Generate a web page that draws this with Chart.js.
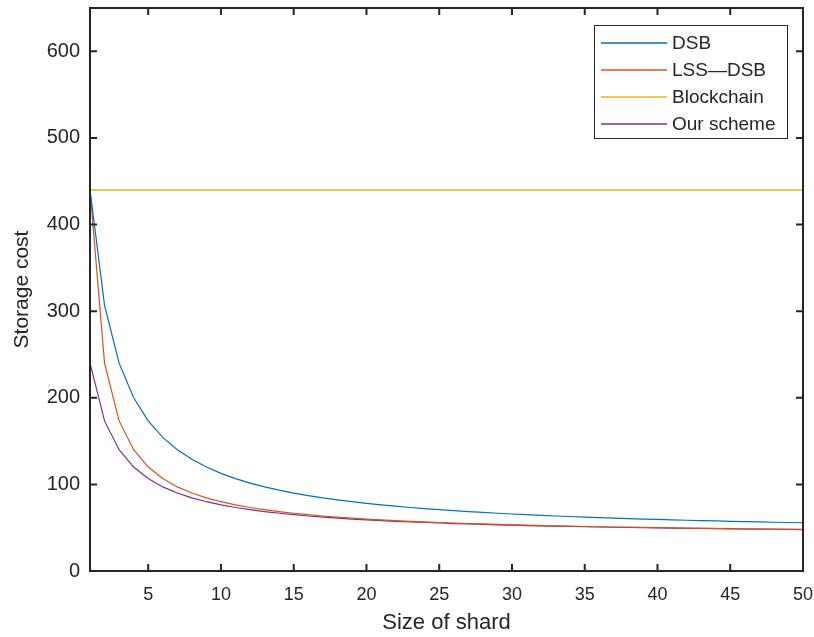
<!DOCTYPE html>
<html>
<head>
<meta charset="utf-8">
<script src="https://cdn.jsdelivr.net/npm/chart.js@4"></script>
<style>
  body { margin: 0; background: #fff; }
  #storageChart { display: block; }
</style>
</head>
<body>
<canvas id="storageChart" width="814" height="637"></canvas>
<script>
// shard sizes 1..50
const shardSizes = [
  1, 2, 3, 4, 5, 6, 7, 8, 9, 10, 11, 12, 13, 14, 15, 16, 17, 18, 19, 20,
  21, 22, 23, 24, 25, 26, 27, 28, 29, 30, 31, 32, 33, 34, 35, 36, 37, 38, 39, 40,
  41, 42, 43, 44, 45, 46, 47, 48, 49, 50
];

const dsbCost = [
  440, 306.7, 240, 200, 173.3, 154.3, 140, 128.9, 120, 112.7,
  106.7, 101.5, 97.1, 93.3, 90, 87.1, 84.4, 82.1, 80, 78.1,
  76.4, 74.8, 73.3, 72, 70.8, 69.6, 68.6, 67.6, 66.7, 65.8,
  65, 64.2, 63.5, 62.9, 62.2, 61.6, 61.1, 60.5, 60, 59.5,
  59, 58.6, 58.1, 57.8, 57.4, 57, 56.7, 56.3, 56, 55.7
];

const lssDsbCost = [
  440, 240, 173.3, 140, 120, 106.7, 97.1, 90, 84.4, 80,
  76.4, 73.3, 70.8, 68.6, 66.7, 65, 63.5, 62.2, 61.1, 60,
  59, 58.2, 57.4, 56.7, 56, 55.4, 54.8, 54.3, 53.8, 53.3,
  52.9, 52.5, 52.1, 51.8, 51.4, 51.1, 50.8, 50.5, 50.3, 50,
  49.8, 49.5, 49.3, 49.1, 48.9, 48.7, 48.5, 48.3, 48.2, 48
];

const blockchainCost = [
  440, 440, 440, 440, 440, 440, 440, 440, 440, 440,
  440, 440, 440, 440, 440, 440, 440, 440, 440, 440,
  440, 440, 440, 440, 440, 440, 440, 440, 440, 440,
  440, 440, 440, 440, 440, 440, 440, 440, 440, 440,
  440, 440, 440, 440, 440, 440, 440, 440, 440, 440
];

const ourSchemeCost = [
  240, 173.3, 140, 120, 106.7, 97.1, 90, 84.4, 80, 76.4,
  73.3, 70.8, 68.6, 66.7, 65, 63.5, 62.2, 61.1, 60, 59,
  58.2, 57.4, 56.7, 56, 55.4, 54.8, 54.3, 53.8, 53.3, 52.9,
  52.5, 52.1, 51.8, 51.4, 51.1, 50.8, 50.5, 50.3, 50, 49.8,
  49.5, 49.3, 49.1, 48.9, 48.7, 48.5, 48.3, 48.2, 48, 47.8
];

const xTicks = [5, 10, 15, 20, 25, 30, 35, 40, 45, 50];
const yTicks = [0, 100, 200, 300, 400, 500, 600];

const axisColor = '#262626';
const fontFamily = '"Liberation Sans", Arial, Helvetica, sans-serif';

function toPoints(values) {
  return values.map((v, i) => ({ x: shardSizes[i], y: v }));
}

// MATLAB style box with inward ticks on all four sides
const boxPlugin = {
  id: 'box',
  afterDraw(chart) {
    const { ctx, chartArea: a, scales } = chart;
    const len = 7;
    ctx.save();
    ctx.strokeStyle = axisColor;
    ctx.lineWidth = 2;
    ctx.strokeRect(a.left, a.top, a.right - a.left, a.bottom - a.top);
    ctx.beginPath();
    xTicks.forEach(v => {
      const px = scales.x.getPixelForValue(v);
      ctx.moveTo(px, a.bottom); ctx.lineTo(px, a.bottom - len);
      ctx.moveTo(px, a.top); ctx.lineTo(px, a.top + len);
    });
    yTicks.forEach(v => {
      const py = scales.y.getPixelForValue(v);
      ctx.moveTo(a.left, py); ctx.lineTo(a.left + len, py);
      ctx.moveTo(a.right, py); ctx.lineTo(a.right - len, py);
    });
    ctx.stroke();
    ctx.restore();
  }
};

// legend box in the upper right corner
const legendBoxPlugin = {
  id: 'legendBox',
  afterDraw(chart) {
    const { ctx } = chart;
    const x0 = 594, y0 = 25, w = 193, h = 113;
    ctx.save();
    ctx.fillStyle = '#fff';
    ctx.fillRect(x0, y0, w, h);
    ctx.strokeStyle = axisColor;
    ctx.lineWidth = 1;
    ctx.strokeRect(x0 + 0.5, y0 + 0.5, w, h);
    ctx.font = '19px ' + fontFamily;
    ctx.textBaseline = 'middle';
    ctx.textAlign = 'left';
    chart.data.datasets.forEach((ds, i) => {
      const y = 43 + i * 27;
      ctx.strokeStyle = ds.borderColor;
      ctx.lineWidth = 1.3;
      ctx.beginPath();
      ctx.moveTo(601, y);
      ctx.lineTo(667, y);
      ctx.stroke();
      ctx.fillStyle = axisColor;
      ctx.fillText(ds.label, 672, y + 1);
    });
    ctx.restore();
  }
};

let storageChart = new Chart(document.getElementById('storageChart'), {
  type: 'line',
  data: {
    datasets: [
      { label: 'DSB', data: toPoints(dsbCost), borderColor: '#0072BD' },
      { label: 'LSS\u2014DSB', data: toPoints(lssDsbCost), borderColor: '#D95319' },
      { label: 'Blockchain', data: toPoints(blockchainCost), borderColor: '#EDB120', borderWidth: 1.5 },
      { label: 'Our scheme', data: toPoints(ourSchemeCost), borderColor: '#7E2F8E' }
    ]
  },
  options: {
    responsive: false,
    animation: false,
    layout: { padding: { top: 8, right: 11, left: 0, bottom: 0 } },
    elements: {
      line: { borderWidth: 1.2, tension: 0, fill: false },
      point: { radius: 0, hoverRadius: 0 }
    },
    plugins: {
      legend: { display: false },
      tooltip: { enabled: false }
    },
    scales: {
      x: {
        type: 'linear',
        min: 1,
        max: 50,
        grid: { display: false, drawTicks: false },
        border: { display: false },
        afterBuildTicks: s => { s.ticks = xTicks.map(v => ({ value: v })); },
        afterFit: s => { s.height = 66; s.paddingLeft = 0; s.paddingRight = 0; },
        ticks: {
          padding: 13,
          color: axisColor,
          font: { family: fontFamily, size: 18 }
        },
        title: {
          display: true,
          text: 'Size of shard',
          color: axisColor,
          font: { family: fontFamily, size: 22 },
          padding: { top: 0, bottom: 1 }
        }
      },
      y: {
        min: 0,
        max: 650,
        grid: { display: false, drawTicks: false },
        border: { display: false },
        afterBuildTicks: s => { s.ticks = yTicks.map(v => ({ value: v })); },
        afterFit: s => { s.width = 90; s.paddingTop = 0; s.paddingBottom = 0; },
        ticks: {
          padding: 10,
          color: axisColor,
          font: { family: fontFamily, size: 20 }
        },
        title: {
          display: true,
          text: 'Storage cost',
          color: axisColor,
          font: { family: fontFamily, size: 21 },
          padding: { top: 10, bottom: 0 }
        }
      }
    }
  },
  plugins: [boxPlugin, legendBoxPlugin]
});
</script>
</body>
</html>
